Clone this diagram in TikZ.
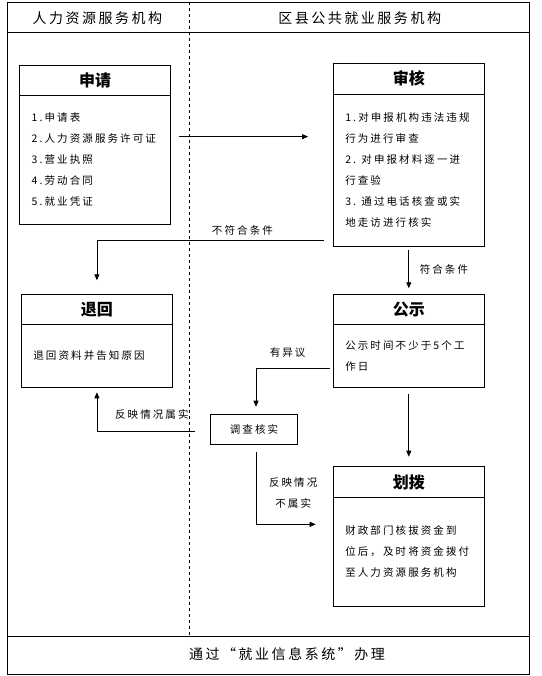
\documentclass[tikz,border=0pt]{standalone}
\usepackage{fontspec}
\setmainfont{Noto Sans CJK SC}
\newfontfamily\bodyfont[LetterSpace=20]{Noto Sans CJK SC}
\newfontfamily\headfont[LetterSpace=18]{Noto Sans CJK SC}
\usetikzlibrary{positioning,calc,arrows.meta}

\begin{document}
\begin{tikzpicture}[x=1pt,y=-1pt,
		every node/.style={inner sep=0pt,outer sep=0pt},
		head/.style={font=\headfont\fontsize{14}{16}\selectfont},
		title/.style={draw,line width=0.8pt,minimum width=151pt,minimum height=30pt,font=\bfseries\fontsize{16}{18}\selectfont},
		body/.style={draw,line width=0.8pt,text width=127pt,inner xsep=12pt,align=left,font=\bodyfont\fontsize{10.5}{21}\selectfont},
		lbl/.style={font=\bodyfont\fontsize{10.5}{21}\selectfont,align=center},
		flow/.style={line width=0.8pt,-{Triangle[length=6pt,width=5pt]}}]
	\useasboundingbox (0,0) rectangle (541,676);
	%
	\draw[line width=0.8pt] (7.6,2) rectangle (529,674);
	\draw[line width=0.8pt] (7.6,32.3) -- (529,32.3);
	\draw[line width=0.8pt] (7.6,636.5) -- (529,636.5);
	\draw[line width=0.7pt,dashed] (189.5,2) -- (189.5,636.5);
	\node[head] (hleft) at (97.4,18) {人力资源服务机构};
	\node[head] (hright) at (359.7,18) {区县公共就业服务机构};
	\node[head] (foot) at (287,654) {通过“就业信息系统”办理};
	%
	\node[title,anchor=north west] (sq) at (19.7,65.3) {申请};
	\node[body,below=0pt of sq,minimum height=128.7pt] (sqtext) {1.申请表\\2.人力资源服务许可证\\3.营业执照\\4.劳动合同\\5.就业凭证};
	\node[title,anchor=north west,minimum height=31pt] (sh) at (333.3,63.3) {审核};
	\node[body,below=0pt of sh,minimum height=151.7pt] (shtext) {1.对申报机构违法违规\\行为进行审查\\2. 对申报材料逐一进\\行查验\\3. 通过电话核查或实\\地走访进行核实};
	\node[title,anchor=north west] (gs) at (333.3,294.3) {公示};
	\node[body,below=0pt of gs,minimum height=62.7pt] (gstext) {公示时间不少于5个工\\作日};
	\node[title,anchor=north west] (th) at (21.4,294.3) {退回};
	\node[body,below=0pt of th,minimum height=62.7pt] (thtext) {退回资料并告知原因};
	\node[title,anchor=north west,minimum height=30.6pt] (hb) at (333.3,466.7) {划拨};
	\node[body,below=0pt of hb,minimum height=108.7pt] (hbtext) {财政部门核拔资金到\\位后，及时将资金拨付\\至人力资源服务机构};
	\node[draw,line width=0.8pt,minimum width=87pt,minimum height=30pt,font=\bodyfont\fontsize{10.5}{21}\selectfont] (dc) at (254,429.3) {调查核实};
	%
	\coordinate (a1) at ($(sqtext.east)+(8,-23)$);
	\coordinate (a2) at ($(shtext.west)+(-25.2,-33.5)$);
	\coordinate (b1) at ($(shtext.south west)+(-9,-6)$);
	\coordinate (b2) at ($(th.north)+(0,-14)$);
	\coordinate (c1) at ($(gstext.west)+(-3.8,12.6)$);
	\coordinate (c2) at ($(dc.north)+(2,-7.6)$);
	\coordinate (d1) at ($(dc.west)+(-15.5,1.7)$);
	\coordinate (d2) at ($(thtext.south)+(0,5.3)$);
	\coordinate (e1) at ($(dc.south)+(2,8)$);
	\coordinate (e2) at ($(hbtext.west)+(-17.6,-27.3)$);
	%
	\draw[flow] (a1) -- (a2);
	\draw[flow] (b1) -| node[lbl,above=5pt,pos=0.18] {不符合条件} (b2);
	\draw[flow] ($(shtext.south)+(0,4)$) -- node[lbl,right=11pt] {符合条件} ($(gs.north)+(0,-6)$);
	\draw[flow] (c1) -| node[lbl,above=11pt,pos=0.285] {有异议} (c2);
	\draw[flow] (d1) -| node[lbl,above=12pt,pos=0.22] {反映情况属实} (d2);
	\draw[flow] ($(gstext.south)+(0,7)$) -- ($(hb.north)+(0,-10)$);
	\draw[flow] (e1) |- node[lbl,right=13pt,pos=0.25,yshift=-5pt] {反映情况\\不属实} (e2);
\end{tikzpicture}
\end{document}
